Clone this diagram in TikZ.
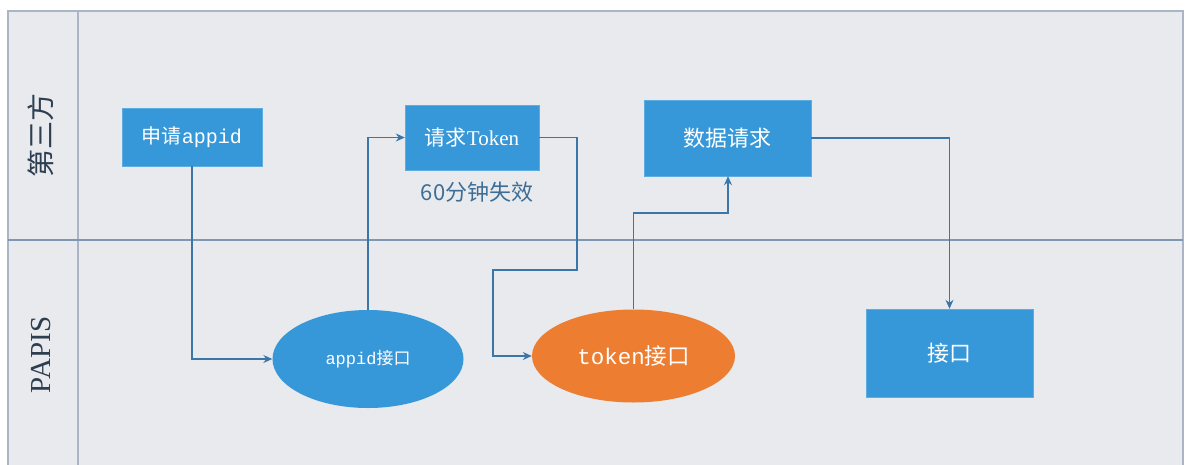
\documentclass[tikz,border=0pt]{standalone}
\usepackage{fontspec}
\setmainfont{Liberation Serif}
\newfontfamily\cjk{Noto Sans CJK SC}
\newfontfamily\lmono{Liberation Mono}
\usetikzlibrary{shapes.geometric,arrows.meta}
\definecolor{bg}{HTML}{E8EAEE}
\definecolor{frame}{HTML}{AAB6C8}
\definecolor{divider}{HTML}{7F97B2}
\definecolor{boxblue}{HTML}{3698D8}
\definecolor{boxorange}{HTML}{ED7D31}
\definecolor{linkc}{HTML}{3A76A8}
\definecolor{notec}{HTML}{3E6E96}
\definecolor{lanec}{HTML}{2C3E50}
\tikzset{
  procbox/.style={rectangle, fill=boxblue, draw=boxblue!80!white, text=white, inner sep=0pt, anchor=center},
  ovalnode/.style={ellipse, inner sep=0pt, text=white},
  link/.style={draw=linkc, line width=1.1pt, -{Stealth[length=9pt,width=8pt]}},
  lanelabel/.style={text=lanec, rotate=90, anchor=center}
}
\begin{document}
\begin{tikzpicture}[x=1pt,y=-1pt]
\useasboundingbox (0,0) rectangle (1196,464);
\begin{scope}
\clip (0,0) rectangle (1196,464);
\fill[bg] (8,11) rectangle (1183,480);
\draw[frame, line width=1.2pt] (8,480) -- (8,11) -- (1183,11) -- (1183,480);
\draw[frame, line width=1.2pt] (78,11) -- (78,480);
\draw[divider, line width=1.1pt] (8,240) -- (1183,240);
\end{scope}

% lane labels
\node[lanelabel, font=\cjk\fontsize{28}{28}\selectfont] (lane1) at (41,135) {第三方};
\node[lanelabel, font=\fontsize{29}{29}\selectfont] (lane2) at (41,355) {PAPIS};

% nodes
\node[procbox, minimum width=140pt, minimum height=58pt] (apply) at (192,137)
  {\fontsize{20}{20}\selectfont{\cjk 申请}{\lmono appid}};
\node[procbox, minimum width=134pt, minimum height=65pt] (token) at (472,137.5)
  {\fontsize{21}{21}\selectfont{\cjk 请求}Token};
\node[text=notec, font=\cjk\fontsize{22}{22}\selectfont] (expire) at (477,192) {60分钟失效};
\node[procbox, minimum width=167pt, minimum height=76pt] (data) at (727.5,138)
  {\cjk\fontsize{22}{22}\selectfont 数据请求};
\node[ovalnode, fill=boxblue, minimum width=191pt, minimum height=98pt] (appidif) at (368,359)
  {\fontsize{17}{17}\selectfont{\lmono appid}{\cjk 接口}};
\node[ovalnode, fill=boxorange, minimum width=203pt, minimum height=93pt] (tokenif) at (633.5,356)
  {\fontsize{22.5}{22.5}\selectfont{\lmono token}{\cjk 接口}};
\node[procbox, minimum width=167pt, minimum height=88pt] (api) at (949.5,353)
  {\cjk\fontsize{22}{22}\selectfont 接口};

% connectors
\draw[link] (apply.south) |- (appidif.west);
\draw[link] (appidif.north) |- (token.west);
\coordinate (c1) at (577,270);
\coordinate (c2) at (493,270);
\draw[link] (token.east) -| (c1) -- (c2) |- (tokenif.west);
\coordinate (c3) at (728,213);
\draw[link] (tokenif.north) |- (c3) -- (data.south -| c3);
\draw[link] (data.east) -| (api.north);
\end{tikzpicture}
\end{document}
